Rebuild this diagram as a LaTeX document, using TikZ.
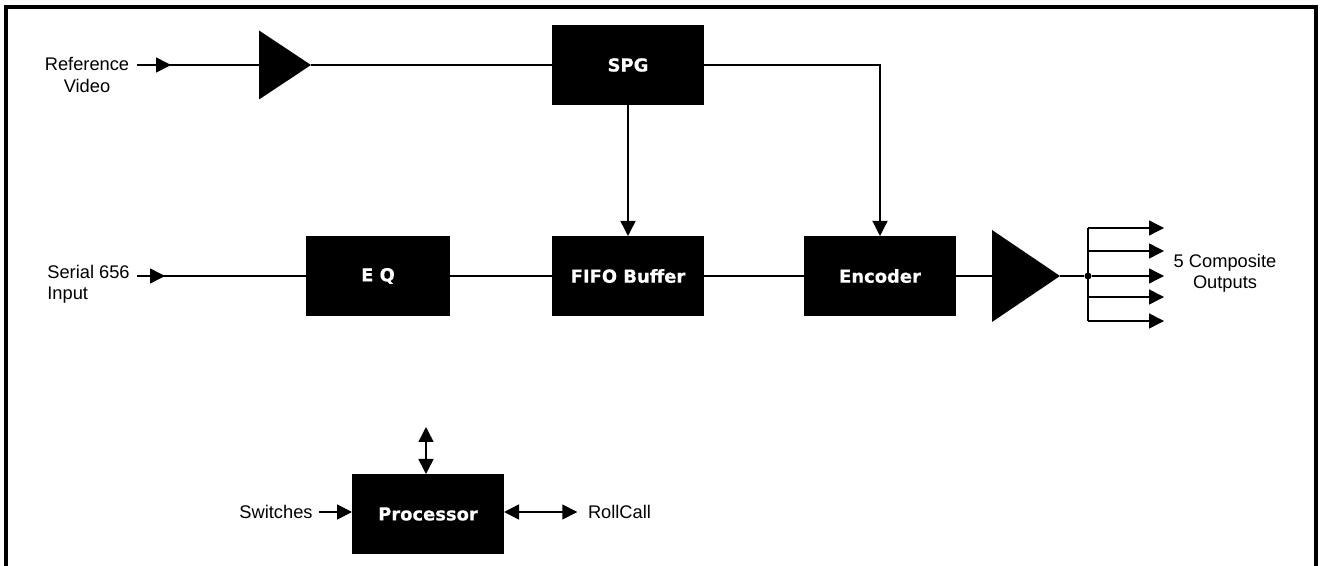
\documentclass[tikz,border=0pt]{standalone}
\usepackage{fontspec}
\setmainfont{Liberation Sans}
\newfontfamily\boxfont{DejaVu Sans}[BoldFeatures={FakeBold=0.5}]
\usetikzlibrary{arrows.meta,shapes.geometric}
\tikzset{
  >={Triangle[length=0.3cm,width=0.3cm]},
  every path/.style={line width=0.85pt},
  block/.style={draw=none,fill=black,text=white,inner sep=0pt,outer sep=0pt,minimum width=3.04cm,minimum height=1.6cm,font=\boxfont\bfseries\fontsize{10.2}{12}\selectfont},
  amp/.style={isosceles triangle,isosceles triangle stretches,shape border rotate=0,draw=none,fill=black,inner sep=0pt,outer sep=0pt,anchor=apex},
  lbl/.style={inner sep=0pt,font=\fontsize{10.4}{12.2}\selectfont}
}

\begin{document}
\begin{tikzpicture}
        \useasboundingbox (0,0) rectangle (26.48,11.32);

        \path
        % frame
        (0.12,0) coordinate(frameA)
        (0.12,11.18) coordinate(frameB)
        (26.32,11.18) coordinate(frameC)
        (26.32,0) coordinate(frameD)

        % top row
        (1.74,9.82) node[lbl,align=center](refvid) {Reference\\Video}
        (2.74,10.02) coordinate(refstart)
        (3.42,10.02) coordinate(reftip)
        (6.22,10.02) node[amp,minimum width=1.38cm,minimum height=1.04cm](refamp) {}
        (12.56,10.02) node[block](SPG) {SPG}

        % middle row
        (1.77,5.64) node[lbl,align=left](serial) {Serial 656\\Input}
        (2.74,5.80) coordinate(serstart)
        (3.30,5.80) coordinate(sertip)
        (7.56,5.80) node[block,minimum width=2.88cm](EQ) {E Q}
        (12.56,5.80) node[block](FIFO) {FIFO Buffer}
        (17.60,5.80) node[block](Encoder) {Encoder}
        (21.20,5.80) node[amp,minimum width=1.84cm,minimum height=1.36cm](outamp) {}
        (21.76,5.80) node[circle,fill=black,inner sep=0pt,minimum size=0.14cm](split) {}
        (24.50,5.86) node[lbl,align=center](composite) {5 Composite\\Outputs}

        % outputs
        (21.76,6.76) coordinate(busA)
        (21.76,6.30) coordinate(busB)
        (21.76,5.38) coordinate(busD)
        (21.76,4.90) coordinate(busE)
        (23.28,6.76) coordinate(outA)
        (23.28,6.30) coordinate(outB)
        (23.28,5.80) coordinate(outC)
        (23.28,5.38) coordinate(outD)
        (23.28,4.90) coordinate(outE)

        % bottom
        (5.52,1.08) node[lbl](Switches) {Switches}
        (8.56,1.04) node[block](Processor) {Processor}
        (12.39,1.08) node[lbl](RollCall) {RollCall}
        (8.52,2.78) coordinate(port)
        ;

        \draw[line width=2.5pt,line join=miter] (frameA) -- (frameB) -- (frameC) -- (frameD);

        \draw (refstart) -- (refstart -| refamp.left corner);
        \draw[->] (refstart) -- (reftip);
        \draw[line width=0.6pt] (refamp.apex) -- (SPG);
        \draw[->] (SPG) -- (FIFO);
        \draw[->,line width=0.7pt] (SPG.east) -| (Encoder);

        \draw (serstart) -- (EQ);
        \draw[->] (serstart) -- (sertip);
        \draw (EQ) -- (FIFO);
        \draw (FIFO) -- (Encoder);
        \draw (Encoder.east) -- (outamp.left corner |- Encoder.east);
        \draw (outamp.apex) -- (split);

        \draw (busA) -- (busE);
        \draw[->] (busA) -- (outA);
        \draw[->] (busB) -- (outB);
        \draw[->] (split) -- (outC);
        \draw[->] (busD) -- (outD);
        \draw[->] (busE) -- (outE);

        \draw[->] (Switches.east) ++(0.12,0) -- (Switches.east -| Processor.west);
        \draw[<->] (Processor.east |- RollCall.west) -- ([xshift=-0.2cm]RollCall.west);
        \draw[<->] (port) -- (port |- Processor.north);
\end{tikzpicture}
\end{document}
